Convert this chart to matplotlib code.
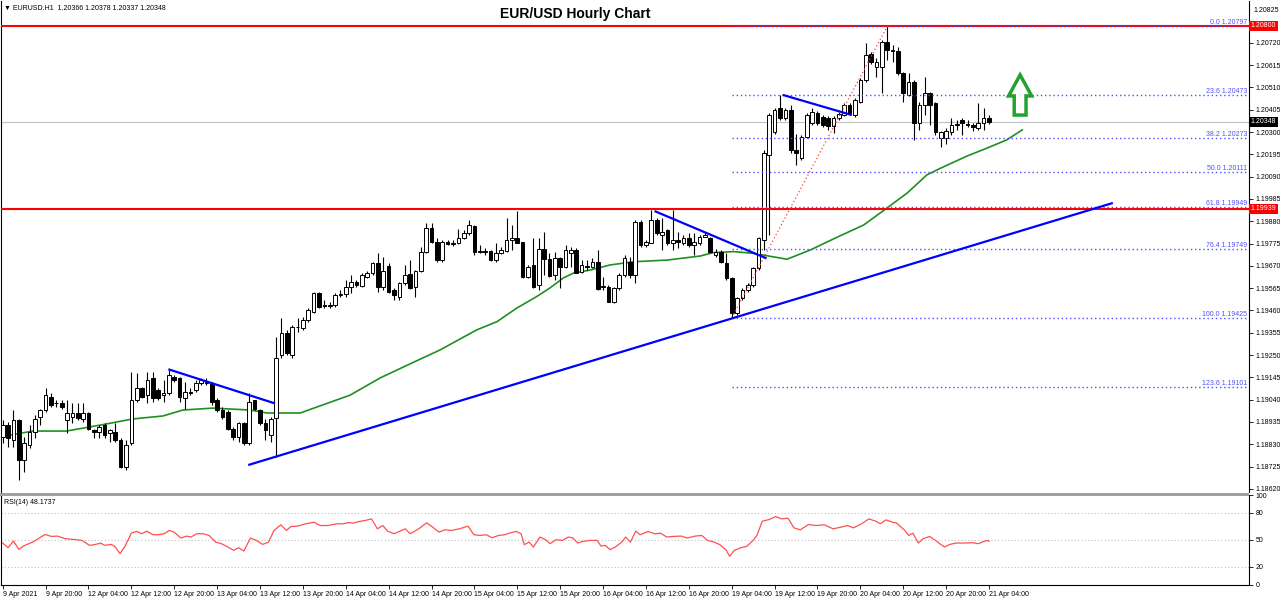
import matplotlib.pyplot as plt
from matplotlib.patches import Polygon, Rectangle
from matplotlib.transforms import blended_transform_factory
import numpy as np

plt.rcParams['font.family'] = ['Liberation Sans', 'DejaVu Sans']

# ---- hourly candles, 9 Apr 12:00 .. 21 Apr 04:00 ----
opens = [
    1.18865, 1.18920, 1.18849, 1.18943, 1.18755, 1.18826, 1.18889, 1.18959, 1.18991, 1.19053,
    1.19022, 1.19026, 1.18943, 1.18959, 1.18979, 1.18951, 1.18975, 1.18896, 1.18889, 1.18920,
    1.18881, 1.18889, 1.18849, 1.18724, 1.18834, 1.19038, 1.19093, 1.19061, 1.19140, 1.19085,
    1.19061, 1.19069, 1.19148, 1.19140, 1.19046, 1.19077, 1.19085, 1.19116, 1.19116, 1.19116,
    1.19038, 1.18991, 1.18983, 1.18904, 1.18865, 1.18928, 1.18834, 1.19038, 1.18991, 1.18928,
    1.18873, 1.18953, 1.19250, 1.19352, 1.19250, 1.19384, 1.19376, 1.19415, 1.19454, 1.19540,
    1.19485, 1.19480, 1.19485, 1.19533, 1.19536, 1.19572, 1.19592, 1.19577, 1.19619, 1.19635,
    1.19682, 1.19572, 1.19671, 1.19556, 1.19525, 1.19588, 1.19630, 1.19568, 1.19646, 1.19737,
    1.19847, 1.19784, 1.19697, 1.19784, 1.19772, 1.19779, 1.19800, 1.19823, 1.19857, 1.19737,
    1.19741, 1.19741, 1.19697, 1.19732, 1.19741, 1.19792, 1.19803, 1.19784, 1.19616, 1.19674,
    1.19580, 1.19748, 1.19701, 1.19627, 1.19705, 1.19666, 1.19732, 1.19745, 1.19642, 1.19670,
    1.19666, 1.19690, 1.19572, 1.19572, 1.19501, 1.19564, 1.19627, 1.19690, 1.19627, 1.19878,
    1.19768, 1.19776, 1.19886, 1.19815, 1.19839, 1.19776, 1.19790, 1.19779, 1.19800, 1.19768,
    1.19776, 1.19807, 1.19800, 1.19721, 1.19737, 1.19682, 1.19611, 1.19450, 1.19517, 1.19556,
    1.19580, 1.19658, 1.19790, 1.20192, 1.20300, 1.20413, 1.20366, 1.20404, 1.20215, 1.20178,
    1.20277, 1.20343, 1.20390, 1.20371, 1.20366, 1.20329, 1.20366, 1.20380, 1.20427, 1.20380,
    1.20442, 1.20546, 1.20668, 1.20606, 1.20606, 1.20724, 1.20687, 1.20682, 1.20578, 1.20475,
    1.20536, 1.20343, 1.20427, 1.20484, 1.20437, 1.20272, 1.20272, 1.20300, 1.20333, 1.20357,
    1.20338, 1.20333, 1.20319, 1.20343, 1.20366,
]
highs = [
    1.18943, 1.18936, 1.18991, 1.18951, 1.18865, 1.18920, 1.18967, 1.18998, 1.19093, 1.19069,
    1.19038, 1.19038, 1.19038, 1.19022, 1.19022, 1.19022, 1.18983, 1.18904, 1.18920, 1.18928,
    1.18904, 1.18928, 1.18857, 1.18849, 1.19171, 1.19163, 1.19100, 1.19171, 1.19171, 1.19093,
    1.19132, 1.19179, 1.19155, 1.19148, 1.19124, 1.19093, 1.19132, 1.19140, 1.19140, 1.19124,
    1.19046, 1.19006, 1.18991, 1.18912, 1.18936, 1.18936, 1.19069, 1.19038, 1.18998, 1.18951,
    1.18959, 1.19335, 1.19423, 1.19368, 1.19392, 1.19423, 1.19431, 1.19470, 1.19548, 1.19548,
    1.19509, 1.19501, 1.19540, 1.19556, 1.19603, 1.19627, 1.19603, 1.19635, 1.19646, 1.19690,
    1.19729, 1.19713, 1.19682, 1.19564, 1.19596, 1.19674, 1.19697, 1.19650, 1.19760, 1.19870,
    1.19870, 1.19800, 1.19792, 1.19792, 1.19792, 1.19842, 1.19838, 1.19886, 1.19862, 1.19768,
    1.19752, 1.19745, 1.19776, 1.19760, 1.19894, 1.19862, 1.19930, 1.19784, 1.19674, 1.19800,
    1.19800, 1.19831, 1.19729, 1.19737, 1.19713, 1.19768, 1.19757, 1.19752, 1.19697, 1.19697,
    1.19705, 1.19745, 1.19619, 1.19580, 1.19572, 1.19635, 1.19721, 1.19713, 1.19886, 1.19886,
    1.19792, 1.19933, 1.19894, 1.19894, 1.19845, 1.19933, 1.19831, 1.19815, 1.19823, 1.19823,
    1.19815, 1.19831, 1.19807, 1.19748, 1.19745, 1.19729, 1.19616, 1.19525, 1.19564, 1.19590,
    1.19666, 1.19807, 1.20215, 1.20390, 1.20413, 1.20475, 1.20413, 1.20427, 1.20290, 1.20286,
    1.20390, 1.20413, 1.20400, 1.20380, 1.20376, 1.20376, 1.20395, 1.20437, 1.20437, 1.20460,
    1.20555, 1.20720, 1.20677, 1.20649, 1.20734, 1.20797, 1.20710, 1.20701, 1.20583, 1.20578,
    1.20545, 1.20442, 1.20559, 1.20489, 1.20442, 1.20305, 1.20319, 1.20366, 1.20357, 1.20366,
    1.20357, 1.20343, 1.20437, 1.20413, 1.20378,
]
lows = [
    1.18834, 1.18818, 1.18818, 1.18661, 1.18700, 1.18810, 1.18857, 1.18920, 1.18983, 1.19006,
    1.19006, 1.18998, 1.18881, 1.18928, 1.18943, 1.18936, 1.18896, 1.18857, 1.18857, 1.18857,
    1.18841, 1.18841, 1.18716, 1.18708, 1.18826, 1.19030, 1.19046, 1.19022, 1.19030, 1.19038,
    1.19030, 1.19061, 1.19124, 1.19030, 1.18998, 1.19061, 1.19077, 1.19108, 1.19108, 1.19014,
    1.18983, 1.18951, 1.18896, 1.18849, 1.18841, 1.18826, 1.18826, 1.18991, 1.18920, 1.18849,
    1.18841, 1.18770, 1.19234, 1.19250, 1.19234, 1.19360, 1.19368, 1.19407, 1.19446, 1.19470,
    1.19470, 1.19470, 1.19478, 1.19525, 1.19525, 1.19540, 1.19572, 1.19572, 1.19615, 1.19627,
    1.19548, 1.19556, 1.19540, 1.19509, 1.19509, 1.19580, 1.19561, 1.19525, 1.19643, 1.19729,
    1.19776, 1.19690, 1.19690, 1.19768, 1.19764, 1.19772, 1.19796, 1.19815, 1.19721, 1.19729,
    1.19721, 1.19694, 1.19690, 1.19725, 1.19737, 1.19745, 1.19776, 1.19611, 1.19611, 1.19564,
    1.19556, 1.19627, 1.19616, 1.19603, 1.19564, 1.19658, 1.19663, 1.19635, 1.19635, 1.19650,
    1.19658, 1.19556, 1.19556, 1.19501, 1.19495, 1.19556, 1.19619, 1.19611, 1.19587, 1.19760,
    1.19760, 1.19776, 1.19815, 1.19745, 1.19770, 1.19745, 1.19752, 1.19770, 1.19760, 1.19721,
    1.19768, 1.19807, 1.19729, 1.19713, 1.19685, 1.19603, 1.19425, 1.19440, 1.19509, 1.19548,
    1.19572, 1.19650, 1.19744, 1.19815, 1.20290, 1.20357, 1.20357, 1.20201, 1.20145, 1.20168,
    1.20272, 1.20333, 1.20333, 1.20324, 1.20310, 1.20296, 1.20357, 1.20376, 1.20380, 1.20371,
    1.20437, 1.20536, 1.20621, 1.20559, 1.20484, 1.20640, 1.20630, 1.20569, 1.20442, 1.20470,
    1.20263, 1.20310, 1.20380, 1.20333, 1.20286, 1.20230, 1.20244, 1.20286, 1.20310, 1.20286,
    1.20324, 1.20305, 1.20310, 1.20310, 1.20337,
]
closes = [
    1.18920, 1.18857, 1.18943, 1.18755, 1.18834, 1.18889, 1.18951, 1.18991, 1.19061, 1.19014,
    1.19026, 1.19006, 1.18975, 1.18979, 1.18955, 1.18975, 1.18904, 1.18889, 1.18912, 1.18873,
    1.18896, 1.18849, 1.18724, 1.18826, 1.19038, 1.19093, 1.19053, 1.19132, 1.19046, 1.19046,
    1.19069, 1.19155, 1.19132, 1.19053, 1.19077, 1.19069, 1.19116, 1.19132, 1.19124, 1.19030,
    1.18991, 1.18959, 1.18904, 1.18865, 1.18928, 1.18834, 1.19030, 1.18998, 1.18928, 1.18896,
    1.18951, 1.19236, 1.19352, 1.19258, 1.19384, 1.19380, 1.19415, 1.19462, 1.19540, 1.19478,
    1.19480, 1.19487, 1.19533, 1.19538, 1.19572, 1.19592, 1.19580, 1.19627, 1.19635, 1.19682,
    1.19572, 1.19646, 1.19548, 1.19533, 1.19588, 1.19627, 1.19564, 1.19646, 1.19737, 1.19847,
    1.19784, 1.19697, 1.19784, 1.19772, 1.19779, 1.19800, 1.19826, 1.19862, 1.19737, 1.19741,
    1.19737, 1.19697, 1.19732, 1.19745, 1.19792, 1.19800, 1.19779, 1.19616, 1.19666, 1.19572,
    1.19748, 1.19701, 1.19622, 1.19705, 1.19666, 1.19745, 1.19745, 1.19638, 1.19674, 1.19666,
    1.19690, 1.19561, 1.19577, 1.19501, 1.19564, 1.19627, 1.19705, 1.19627, 1.19878, 1.19768,
    1.19784, 1.19886, 1.19823, 1.19831, 1.19776, 1.19792, 1.19784, 1.19800, 1.19768, 1.19784,
    1.19807, 1.19815, 1.19737, 1.19737, 1.19690, 1.19611, 1.19446, 1.19517, 1.19556, 1.19580,
    1.19658, 1.19800, 1.20201, 1.20380, 1.20404, 1.20366, 1.20404, 1.20215, 1.20200, 1.20277,
    1.20380, 1.20395, 1.20343, 1.20333, 1.20328, 1.20366, 1.20385, 1.20427, 1.20390, 1.20451,
    1.20546, 1.20663, 1.20630, 1.20630, 1.20724, 1.20687, 1.20682, 1.20578, 1.20484, 1.20536,
    1.20343, 1.20427, 1.20484, 1.20427, 1.20300, 1.20300, 1.20305, 1.20333, 1.20338, 1.20343,
    1.20333, 1.20324, 1.20343, 1.20366, 1.20348,
]

# green moving average (bar index, price)
ma_bars = [-0.5, 5.65, 11.9, 18.2, 24.3, 29.9, 33.6, 39.2, 46.1, 49.3, 55.5, 64.8, 70.4, 76.3,
           81.6, 88.4, 92.2, 95.9, 99.6, 102.1, 104.6, 106.5, 109.6, 113.3, 117.6, 123.9, 130.1,
           132.5, 136.3, 140, 146.3, 150.6, 155.6, 160.6, 164.9, 168.7, 172.4, 174.9, 179.9,
           183.6, 187.3, 190.2]
ma_vals = [1.18865, 1.18892, 1.18892, 1.18920, 1.18949, 1.18963, 1.18991, 1.19000, 1.18991,
           1.18977, 1.18977, 1.19061, 1.19142, 1.19212, 1.19274, 1.19368, 1.19407, 1.19471,
           1.19525, 1.19566, 1.19613, 1.19636, 1.19650, 1.19674, 1.19689, 1.19697, 1.19716,
           1.19732, 1.19737, 1.19729, 1.19701, 1.19744, 1.19804, 1.19862, 1.19941, 1.20012,
           1.20098, 1.20129, 1.20187, 1.20224, 1.20263, 1.20310]

# RSI(14)
rsi_bars = [0, 1, 2, 3, 4.1, 5.6, 6.8, 7.9, 9.1, 10.2, 11.7, 13.3, 14.8, 16.2, 17.1, 18.3, 19,
            20.2, 20.9, 21.9, 22.8, 24, 25, 25.9, 26.9, 28, 29, 30.1, 31.1, 32, 33.2, 34.3, 35.1,
            36.2, 37.4, 38.5, 39.7, 40.8, 42, 43.1, 44, 45, 46.2, 47.3, 48.5, 49.6, 50.6, 51.9,
            52.9, 53.8, 55, 56.5, 58.1, 59.2, 60.7, 62.3, 63.4, 64.6, 65.3, 66.5, 67.6, 68.8,
            69.9, 70.9, 71.8, 73, 74.1, 75.1, 76, 77.6, 79.1, 80.2, 81.4, 82.5, 83.7, 85.2, 86.8,
            87.9, 89.1, 90.2, 91.3, 92.5, 93.6, 94.8, 95.8, 96.7, 97.3, 98.2, 99, 100.2, 101.3,
            102.1, 103.2, 104.4, 105.5, 106.3, 107.3, 108.2, 109.7, 110.9, 111.6, 112.4, 113.3,
            114.3, 115.5, 116.2, 117.1, 118.1, 118.9, 120.4, 121.6, 122.7, 123.9, 125, 126.6,
            127.7, 129.2, 130.4, 131.5, 132.7, 133.8, 135, 135.6, 136.5, 137.7, 138.8, 140,
            140.7, 141.7, 143, 144.2, 145.3, 146.5, 147.6, 148.8, 150.3, 151.8, 153.3, 154.9,
            156.4, 157.6, 158.7, 160.2, 161.6, 162.9, 163.7, 164.8, 166, 166.7, 168.3, 169,
            169.8, 170.8, 171.7, 172.9, 174, 174.8, 175.7, 176.7, 177.8, 179.4, 180.9, 182,
            183.2, 183.9, 184]
rsi_vals = [46.3, 41.1, 48.5, 39.3, 43.7, 47.4, 51.9, 55.9, 53.7, 54.1, 51.1, 50.4, 49.3, 43.7,
            44.5, 46.3, 43.7, 44.8, 42.6, 34.5, 42.6, 57.4, 59.3, 56.7, 59.6, 55.6, 55.6, 56.7,
            60.4, 58.5, 51.9, 54.1, 53.0, 56.7, 56.7, 54.8, 47.4, 45.6, 41.9, 38.2, 41.1, 37.4,
            51.9, 49.3, 44.8, 47.4, 60.4, 66.7, 60.4, 64.8, 65.2, 67.8, 69.6, 65.9, 65.9, 67.8,
            67.8, 69.2, 68.5, 70.4, 71.5, 73.3, 62.2, 65.9, 59.6, 56.7, 59.6, 62.2, 56.7, 62.2,
            68.9, 64.1, 58.5, 61.1, 60.4, 62.2, 65.2, 55.6, 54.8, 55.6, 52.2, 54.8, 55.6, 57.8,
            59.3, 56.7, 44.5, 47.4, 41.9, 53.0, 50.0, 45.6, 50.0, 49.3, 53.0, 52.2, 46.3, 48.2,
            49.3, 49.3, 43.0, 43.7, 38.9, 41.9, 47.4, 53.0, 47.4, 59.6, 55.6, 59.3, 56.7, 57.4,
            53.0, 53.7, 54.1, 51.9, 54.1, 54.8, 49.3, 47.4, 44.5, 38.2, 31.5, 38.2, 41.1, 42.6,
            49.3, 54.8, 70.7, 72.6, 75.9, 73.3, 74.1, 63.3, 61.1, 67.0, 65.9, 66.7, 62.2, 64.1,
            65.9, 63.3, 67.8, 73.3, 70.7, 67.8, 72.2, 69.6, 68.9, 60.4, 54.8, 57.4, 46.3, 51.1,
            53.7, 49.3, 45.6, 41.9, 44.8, 46.3, 46.3, 46.7, 45.6, 48.5, 49.3, 48.1737]
rsi_levels = [20, 50, 80]

# drawn objects
fib_start = 136
fib_ratios = [0.0, 23.6, 38.2, 50.0, 61.8, 76.4, 100.0, 123.6]
fib_prices = [1.20797, 1.20473, 1.20273, 1.20111, 1.19949, 1.19749, 1.19425, 1.19101]
fib_swing_bars = [136, 165]
fib_swing_prices = [1.19425, 1.20797]
red_levels = [1.20800, 1.19939]
trend_lines = [
    ([45.8, 207.1], [1.18732, 1.19966]),
    ([30.9, 50.8], [1.19183, 1.19022]),
    ([121.6, 142.5], [1.19928, 1.19705]),
    ([145.5, 158.4], [1.20475, 1.20380]),
]

price_top = '1.20825'
price_ticks = ['1.20720', '1.20615', '1.20510', '1.20405', '1.20300', '1.20195',
               '1.20090', '1.19985', '1.19880', '1.19775', '1.19670', '1.19565', '1.19460',
               '1.19355', '1.19250', '1.19145', '1.19040', '1.18935', '1.18830', '1.18725',
               '1.18620']
time_labels = ['9 Apr 2021', '9 Apr 20:00', '12 Apr 04:00', '12 Apr 12:00', '12 Apr 20:00',
               '13 Apr 04:00', '13 Apr 12:00', '13 Apr 20:00', '14 Apr 04:00', '14 Apr 12:00',
               '14 Apr 20:00', '15 Apr 04:00', '15 Apr 12:00', '15 Apr 20:00', '16 Apr 04:00',
               '16 Apr 12:00', '16 Apr 20:00', '19 Apr 04:00', '19 Apr 12:00', '19 Apr 20:00',
               '20 Apr 04:00', '20 Apr 12:00', '20 Apr 20:00', '21 Apr 04:00']
time_label_bars = list(range(0, 185, 8))

W, H = 1280, 599
fig = plt.figure(figsize=(W / 100, H / 100), dpi=100)


def px_axes(x0, y0, x1, y1):
    return fig.add_axes([x0 / W, 1 - y1 / H, (x1 - x0) / W, (y1 - y0) / H])


ax = px_axes(1, 1, 1249, 492)
ax_rsi = px_axes(1, 495, 1249, 584.5)
xlim = (-0.32, 232.5)
fs = 5

o = np.array(opens)
hi = np.array(highs)
lo = np.array(lows)
c = np.array(closes)
idx = np.arange(len(c))
up = c >= o

ax.axhline(c[-1], color='#c0c0c0', lw=0.8, zorder=1)
ax.plot(ma_bars, ma_vals, color='#1f8f1f', lw=1.2, zorder=2)
ax.vlines(idx, lo, hi, color='black', lw=0.8, zorder=3)
ax.bar(idx[up], (c - o)[up], bottom=o[up], width=0.68, facecolor='white',
       edgecolor='black', lw=0.7, zorder=4)
ax.bar(idx[~up], (o - c)[~up], bottom=c[~up], width=0.68, facecolor='black',
       edgecolor='black', lw=0.7, zorder=4)

for p in red_levels:
    ax.axhline(p, color='red', lw=1.5, zorder=5)

fib_col = '#4f4fff'
for r, p in zip(fib_ratios, fib_prices):
    ax.hlines(p, fib_start, xlim[1], colors=fib_col, linestyles=(0, (1, 2)), lw=1, zorder=5)
    ax.text(xlim[1] - 0.3, p, f'{r:.1f} {p:.5f}', ha='right', va='bottom', color=fib_col,
            fontsize=fs, zorder=6)
ax.plot(fib_swing_bars, fib_swing_prices, color='#ff4040', ls=(0, (1, 2)), lw=0.9, zorder=5)

for xs, ys in trend_lines:
    ax.plot(xs, ys, color='#0000ff', lw=1.6, zorder=6, solid_capstyle='butt')

# green arrow
ac, ab, ah, at = 189.8, 1.20380, 1.20470, 1.20569
arrow = Polygon([(ac - 1.1, ab), (ac - 1.1, ah), (ac - 2.15, ah), (ac, at), (ac + 2.15, ah),
                 (ac + 1.1, ah), (ac + 1.1, ab)], closed=True, facecolor='white',
                edgecolor='#22a22e', lw=2.5, zorder=7)
ax.add_patch(arrow)

ax.set_xlim(*xlim)
ax.set_ylim(1.18605, 1.20917)
ax.yaxis.tick_right()
ax.set_yticks([float(t) for t in price_ticks])
ax.set_yticklabels(price_ticks)
ax.tick_params(axis='y', length=3, width=0.6, pad=1.5, labelsize=fs)
ax.set_xticks([])
for s in ['top', 'bottom']:
    ax.spines[s].set_visible(False)
for s in ['left', 'right']:
    ax.spines[s].set_linewidth(0.8)

# topmost scale value sits at the very top of the scale, as in the terminal
ax.text(1.0035, 1 - 10 / 491, price_top, transform=ax.transAxes, ha='left', va='center',
        fontsize=fs, clip_on=False)

tr = blended_transform_factory(ax.transAxes, ax.transData)
for p, col in [(red_levels[0], 'red'), (red_levels[1], 'red'), (c[-1], 'black')]:
    ax.text(1.0015, p, f'{p:.5f}', transform=tr, ha='left', va='center', color='white',
            fontsize=fs, bbox=dict(facecolor=col, edgecolor='none', pad=1.0), clip_on=False,
            zorder=10)

ax.text(3 / 1248, 1 - 7 / 491, '\u25bc EURUSD.H1  ' + ' '.join(f'{v:.5f}' for v in
        [o[-1], hi[-1], lo[-1], c[-1]]), transform=ax.transAxes, ha='left', va='center',
        fontsize=fs)
fig.text(575 / W, 1 - 14 / H, 'EUR/USD Hourly Chart', ha='center', va='center',
         fontsize=10, fontweight='bold')

# separator between windows
fig.patches.append(Rectangle((0, 1 - 495.5 / H), 1249 / W, 3 / H, transform=fig.transFigure,
                             facecolor='#a0a0a0', edgecolor='none'))

# RSI window
for lv in rsi_levels:
    ax_rsi.axhline(lv, color='#c0c0c0', ls=(0, (1, 2)), lw=0.8)
ax_rsi.plot(rsi_bars, rsi_vals, color='#ff5050', lw=0.9)
ax_rsi.set_xlim(*xlim)
ax_rsi.set_ylim(0, 100)
ax_rsi.yaxis.tick_right()
ax_rsi.set_yticks([0, 20, 50, 80, 100])
ax_rsi.tick_params(axis='y', length=3, width=0.6, pad=1.5, labelsize=fs)
ax_rsi.set_xticks(time_label_bars)
ax_rsi.set_xticklabels(time_labels, ha='left')
ax_rsi.tick_params(axis='x', length=3, width=0.6, pad=1.5, labelsize=fs)
ax_rsi.spines['top'].set_visible(False)
for s in ['left', 'right', 'bottom']:
    ax_rsi.spines[s].set_linewidth(0.8)
ax_rsi.text(3 / 1248, 0.96, f'RSI(14) {rsi_vals[-1]:.4f}', transform=ax_rsi.transAxes,
            ha='left', va='top', fontsize=fs)

fig.savefig('out.png', dpi=100)
